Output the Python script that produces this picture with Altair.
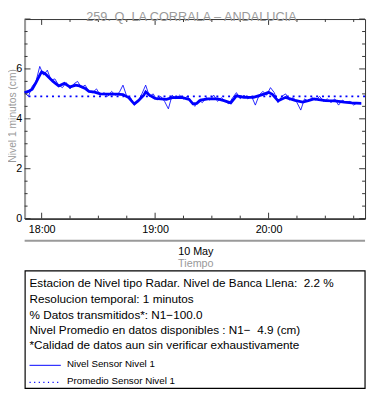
import altair as alt
import pandas as pd

# ---------------- data ----------------
BASE = pd.Timestamp("2024-05-10 18:00")

TITLE = "259. Q. LA CORRALA \u2013 ANDALUCIA"
Y_TITLE = "Nivel 1 minutos (cm)"
X_TITLE = "Tiempo"
DATE_LABEL = "10 May"
INFO_LINES = [
    "Estacion de Nivel tipo Radar. Nivel de Banca Llena:\u00a0 2.2 %",
    "Resolucion temporal: 1 minutos",
    "% Datos transmitidos*: N1\u2212100.0",
    "Nivel Promedio en datos disponibles : N1\u2212\u00a0 4.9 (cm)",
    "*Calidad de datos aun sin verificar exhaustivamente",
]
LEGEND_LABELS = ["Nivel Sensor Nivel 1", "Promedio Sensor Nivel 1"]

# raw 1-minute sensor (sampled every 2 min), minutes relative to 18:00
raw_minutes = list(range(-9, 170, 2))
raw_values = [
    5.05, 4.90, 5.30, 5.50, 6.10, 5.75, 5.95, 5.55, 5.60, 5.35,
    5.25, 5.45, 5.20, 5.40, 5.50, 5.25, 5.35, 5.10, 5.05, 5.20,
    4.95, 5.05, 4.90, 5.10, 4.95, 5.05, 5.35, 4.90, 4.85, 4.55,
    4.70, 5.00, 5.35, 4.90, 5.00, 4.75, 4.90, 4.70, 4.40, 4.95,
    4.80, 4.95, 4.80, 4.90, 4.70, 4.50, 4.75, 4.65, 4.85, 4.75,
    4.95, 4.70, 4.85, 4.70, 4.60, 4.85, 5.05, 4.80, 4.95, 4.80,
    4.90, 4.55, 4.95, 5.10, 4.95, 5.25, 5.05, 4.65, 4.90, 5.00,
    4.75, 4.85, 4.65, 4.35, 4.80, 4.70, 4.85, 4.75, 4.90, 4.70,
    4.80, 4.65, 4.80, 4.55, 4.75, 4.65, 4.70, 4.55, 4.65, 4.60,
]

smooth_minutes = [-9, -7, -5, -3, -1, 0, 2, 4, 6, 9, 12, 15, 18, 20, 23, 25, 28, 31,
                  36, 40, 43, 46, 48, 49, 51, 54, 55, 57, 60, 63, 66, 69, 74, 78,
                  80, 82, 84, 88, 93, 96, 100, 103, 107, 112, 115, 118, 120, 122,
                  125, 129, 134, 138, 141, 144, 150, 155, 160, 164, 169]
smooth_values = [5.05, 5.10, 5.19, 5.45, 5.75, 5.88, 5.80, 5.65, 5.50, 5.32, 5.42,
                 5.28, 5.35, 5.32, 5.22, 5.10, 5.07, 5.00, 4.99, 4.99, 4.97, 4.85,
                 4.68, 4.60, 4.72, 4.95, 5.08, 4.95, 4.82, 4.80, 4.78, 4.85, 4.86,
                 4.78, 4.60, 4.62, 4.75, 4.80, 4.80, 4.74, 4.64, 4.92, 4.86, 4.86,
                 4.93, 5.00, 5.06, 4.98, 4.72, 4.86, 4.74, 4.67, 4.73, 4.80, 4.73,
                 4.72, 4.67, 4.64, 4.62]

MEAN_LEVEL = 4.9

y_label_values = [0, 2, 4, 6]
y_major_ticks = [0, 2, 4, 6, 8]
y_minor_ticks = [0.5, 1, 1.5, 2.5, 3, 3.5, 4.5, 5, 5.5, 6.5, 7, 7.5]
x_major_minutes = [0, 60, 120]
x_minor_minutes = [15, 30, 45, 75, 90, 105, 135, 150, 165]
x_start_minutes, x_end_minutes = -9, 171

# ---------------- helpers ----------------
W, H = 348, 204
FONT = "Liberation Sans"
BLUE = "#0000ff"
GRAY = "#9a9a9a"
TICK = "#333333"


def t(m):
    return BASE + pd.Timedelta(minutes=m)


def dt(m):
    ts = t(m)
    return alt.DateTime(year=ts.year, month=ts.month, date=ts.day,
                        hours=ts.hour, minutes=ts.minute)


raw_df = pd.DataFrame({"time": [t(m) for m in raw_minutes], "level": raw_values})
smooth_df = pd.DataFrame({"time": [t(m) for m in smooth_minutes], "level": smooth_values})

x_scale = alt.Scale(domain=[dt(x_start_minutes), dt(x_end_minutes)])
y_scale = alt.Scale(domain=[0, 8], nice=False, zero=False)

x_axis = alt.Axis(values=[dt(m) for m in x_major_minutes], format="%H:%M",
                  title=None, grid=False, ticks=False, labelFontSize=11,
                  labelFont=FONT, labelColor="black", labelPadding=5,
                  domainColor="black", domainWidth=1)
y_axis = alt.Axis(values=y_label_values, title=None, grid=False, ticks=False,
                  labelFontSize=11, labelFont=FONT, labelColor="black",
                  labelPadding=3, domainColor=GRAY, domainWidth=2)


def X(field):
    return alt.X(field, scale=x_scale, axis=x_axis)


def Y(field):
    return alt.Y(field, scale=y_scale, axis=y_axis)


raw_line = alt.Chart(raw_df).mark_line(color=BLUE, strokeWidth=1, opacity=0.85).encode(
    x=X("time:T"), y=Y("level:Q"))
smooth_line = alt.Chart(smooth_df).mark_line(color=BLUE, strokeWidth=2.8).encode(
    x=X("time:T"), y=Y("level:Q"))
mean_rule = alt.Chart(pd.DataFrame({"level": [MEAN_LEVEL]})).mark_rule(
    color=BLUE, strokeWidth=2, strokeDash=[2, 4]).encode(y=Y("level:Q"))

layers = [raw_line, smooth_line, mean_rule]

# inward ticks (y: left and right; x: bottom and top)
for vals, ln in ((y_major_ticks, 6), (y_minor_ticks, 3)):
    d = pd.DataFrame({"level": vals})
    layers.append(alt.Chart(d).mark_rule(color=TICK, strokeWidth=1).encode(
        y=Y("level:Q"), x=alt.value(0), x2=alt.value(ln)))
    layers.append(alt.Chart(d).mark_rule(color=TICK, strokeWidth=1).encode(
        y=Y("level:Q"), x=alt.value(W), x2=alt.value(W - ln)))
for mins, ln in ((x_major_minutes, 6), (x_minor_minutes, 3)):
    d = pd.DataFrame({"time": [t(m) for m in mins]})
    layers.append(alt.Chart(d).mark_rule(color=TICK, strokeWidth=1).encode(
        x=X("time:T"), y=alt.value(H), y2=alt.value(H - ln)))
    layers.append(alt.Chart(d).mark_rule(color=TICK, strokeWidth=1).encode(
        x=X("time:T"), y=alt.value(0), y2=alt.value(ln)))

one = pd.DataFrame({"a": [0]})


def text_layer(txt, x, y, size, color="black", align="left", angle=0, baseline="alphabetic"):
    props = dict(fontSize=size, font=FONT, color=color, align=align, baseline=baseline)
    if angle:
        props["angle"] = angle
    return alt.Chart(pd.DataFrame({"t": [txt]})).mark_text(**props).encode(
        text="t:N", x=alt.value(x), y=alt.value(y))


# title and axis titles
layers.append(text_layer(TITLE, 170.5, 1.8, 13, GRAY, "center"))
layers.append(text_layer(Y_TITLE, -16.8, 99, 10.5, GRAY, "center", angle=270, baseline="top"))

# grey separator under the axis, date label and "Tiempo"
layers.append(alt.Chart(one).mark_rule(color=GRAY, strokeWidth=2).encode(
    x=alt.value(0), x2=alt.value(W), y=alt.value(226.7)))
layers.append(text_layer(DATE_LABEL, 175, 241, 11, "black", "center"))
layers.append(text_layer(X_TITLE, 175, 253.3, 11, GRAY, "center"))

# info box
layers.append(alt.Chart(one).mark_rect(fill="white", fillOpacity=0, stroke="black",
                                       strokeWidth=1.2).encode(
    x=alt.value(0.5), x2=alt.value(W), y=alt.value(257.5), y2=alt.value(377.5)))
line_y = [274.3, 290.5, 306.5, 322.3, 337.6]
for txt, yy in zip(INFO_LINES, line_y):
    layers.append(text_layer(txt, 5, yy, 12))

# legend entries
layers.append(alt.Chart(one).mark_rule(color=BLUE, strokeWidth=1).encode(
    x=alt.value(5), x2=alt.value(37), y=alt.value(354)))
layers.append(alt.Chart(one).mark_rule(color=BLUE, strokeWidth=1.2, strokeDash=[1.2, 3.5]).encode(
    x=alt.value(5), x2=alt.value(37), y=alt.value(371.5)))
layers.append(text_layer(LEGEND_LABELS[0], 43.3, 355.9, 10))
layers.append(text_layer(LEGEND_LABELS[1], 43.3, 372.6, 10))

chart = alt.layer(*layers).properties(
    width=W, height=H,
    autosize=alt.AutoSizeParams(type="none"),
    padding={"left": 17, "top": 7, "right": 2, "bottom": 174},
    background="white",
).configure_view(stroke=TICK, strokeWidth=1)

chart.save("out.html", embed_options={"renderer": "svg", "actions": False})
